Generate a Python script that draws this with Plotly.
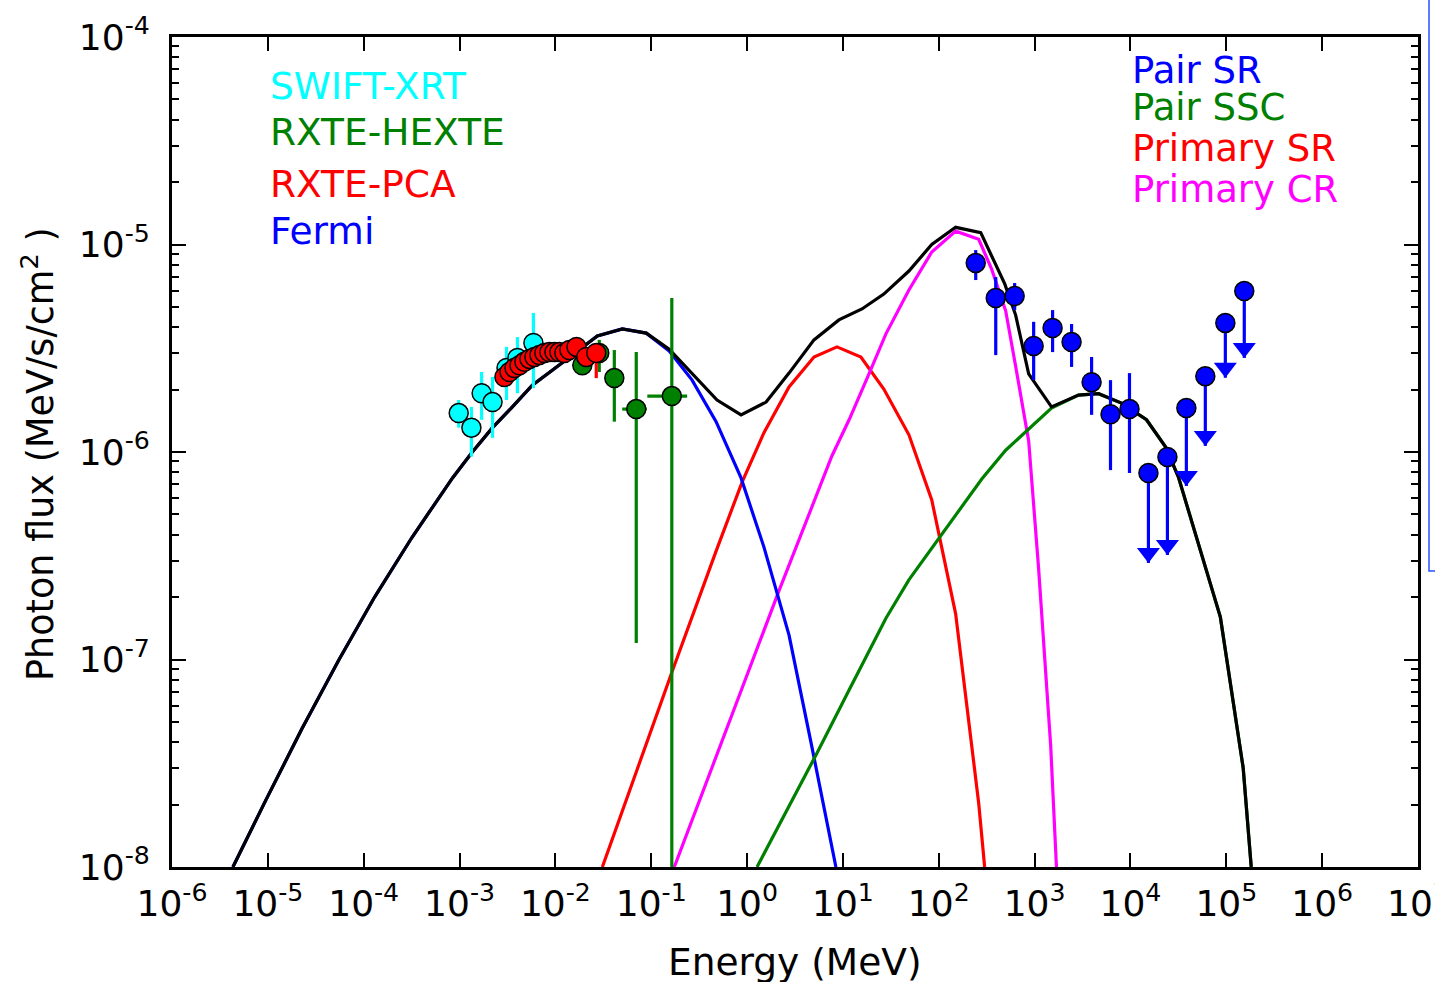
import plotly.graph_objects as go

# ---------------- model curves (E in MeV, flux in MeV/s/cm^2) ----------------
total_E = [4.32e-6, 9.53e-6, 2.26e-5, 5.50e-5, 1.30e-4, 3.16e-4, 5.24e-4, 8.45e-4,
           1.36e-3, 2.21e-3, 3.56e-3, 5.75e-3, 1.18e-2, 2.74e-2, 4.99e-2, 8.87e-2,
           0.154, 0.267, 0.486, 0.865, 1.58, 2.74, 4.99, 9.08, 15.8, 26.7, 48.8, 84.5,
           150, 274, 356, 488, 634, 867, 1500, 2870, 4650, 8050, 14700, 23200, 31600,
           86700, 150000, 182000]
total_F = [1.00e-8, 2.10e-8, 4.62e-8, 9.95e-8, 2.00e-7, 3.85e-7, 5.43e-7, 7.50e-7,
           1.00e-6, 1.31e-6, 1.65e-6, 2.10e-6, 2.69e-6, 3.62e-6, 3.92e-6, 3.74e-6,
           3.13e-6, 2.40e-6, 1.78e-6, 1.51e-6, 1.74e-6, 2.40e-6, 3.47e-6, 4.33e-6,
           4.89e-6, 5.77e-6, 7.45e-6, 1.00e-5, 1.21e-5, 1.14e-5, 8.81e-6, 6.46e-6,
           4.57e-6, 2.38e-6, 1.65e-6, 1.88e-6, 1.91e-6, 1.72e-6, 1.43e-6, 1.06e-6,
           7.59e-7, 1.60e-7, 3.00e-8, 1.00e-8]

pair_sr_E = [4.32e-6, 9.53e-6, 2.26e-5, 5.50e-5, 1.30e-4, 3.16e-4, 5.24e-4, 8.45e-4,
             1.36e-3, 2.21e-3, 3.56e-3, 5.75e-3, 1.18e-2, 2.74e-2, 4.99e-2, 8.87e-2,
             0.154, 0.267, 0.475, 0.865, 1.50, 2.74, 4.75, 8.45]
pair_sr_F = [1.00e-8, 2.10e-8, 4.62e-8, 9.95e-8, 2.00e-7, 3.85e-7, 5.43e-7, 7.50e-7,
             1.00e-6, 1.31e-6, 1.65e-6, 2.10e-6, 2.69e-6, 3.62e-6, 3.92e-6, 3.74e-6,
             3.07e-6, 2.22e-6, 1.40e-6, 7.50e-7, 3.48e-7, 1.31e-7, 3.78e-8, 1.00e-8]

pair_ssc_E = [1.27, 5.24, 11.6, 28.1, 48.8, 100, 281, 499, 867, 1500, 2870, 4650, 8050,
              14700, 23200, 31600, 86700, 150000, 182000]
pair_ssc_F = [1.00e-8, 3.47e-8, 7.13e-8, 1.58e-7, 2.42e-7, 3.85e-7, 7.41e-7, 1.02e-6,
              1.29e-6, 1.63e-6, 1.88e-6, 1.91e-6, 1.72e-6, 1.43e-6, 1.06e-6, 7.59e-7,
              1.60e-7, 3.00e-8, 1.00e-8]

primary_sr_E = [0.0309, 0.166, 0.475, 0.887, 1.50, 2.74, 4.99, 8.67, 15.4, 26.7, 48.8,
                84.5, 150, 261, 301]
primary_sr_F = [1.00e-8, 8.81e-8, 3.33e-7, 7.16e-7, 1.24e-6, 2.06e-6, 2.87e-6, 3.21e-6,
                2.87e-6, 2.01e-6, 1.21e-6, 5.87e-7, 1.66e-7, 2.03e-8, 1.00e-8]

primary_cr_E = [0.174, 2.15, 7.67, 11.6, 18.7, 28.1, 48.8, 84.5, 150, 261, 356, 499, 634,
                867, 1100, 1470, 1690]
primary_cr_F = [1.00e-8, 2.14e-7, 9.57e-7, 1.43e-6, 2.38e-6, 3.71e-6, 6.04e-6, 9.20e-6,
                1.16e-5, 1.06e-5, 7.62e-6, 4.79e-6, 2.59e-6, 1.13e-6, 2.76e-7, 3.87e-8, 1.00e-8]

# ---------------- observations ----------------
xrt_E = [9.8e-4, 1.33e-3, 1.70e-3, 2.21e-3, 3.09e-3, 4.02e-3, 5.9e-3]
xrt_F = [1.54e-6, 1.31e-6, 1.92e-6, 1.74e-6, 2.54e-6, 2.84e-6, 3.35e-6]
xrt_hi = [1.78e-6, 1.65e-6, 2.43e-6, 2.30e-6, 3.21e-6, 3.58e-6, 4.68e-6]
xrt_lo = [1.31e-6, 9.5e-7, 1.43e-6, 1.17e-6, 1.78e-6, 1.92e-6, 2.03e-6]

hexte_E = [0.0191, 0.0287, 0.0412, 0.0698, 0.164]
hexte_F = [2.62e-6, 3.00e-6, 2.27e-6, 1.61e-6, 1.86e-6]
hexte_hi = [2.75e-6, 3.47e-6, 3.10e-6, 3.03e-6, 5.52e-6]
hexte_lo = [2.50e-6, 2.43e-6, 1.40e-6, 1.20e-7, 1.0e-9]
hexte_Eerr = [0.002, 0.003, 0.004, 0.020, 0.073]

pca_E = [2.94e-3, 3.32e-3, 3.74e-3, 4.22e-3, 4.75e-3, 5.36e-3, 6.04e-3, 6.81e-3, 7.67e-3,
         8.65e-3, 9.77e-3, 1.10e-2, 1.24e-2, 1.40e-2, 1.66e-2, 2.10e-2, 2.67e-2]
pca_F = [2.30e-6, 2.43e-6, 2.54e-6, 2.62e-6, 2.72e-6, 2.81e-6, 2.87e-6, 2.93e-6, 3.00e-6,
         3.03e-6, 3.03e-6, 3.03e-6, 3.00e-6, 3.10e-6, 3.21e-6, 2.87e-6, 3.00e-6]
pca_hi = [2.40e-6, 2.53e-6, 2.64e-6, 2.72e-6, 2.82e-6, 2.91e-6, 2.97e-6, 3.03e-6, 3.10e-6,
          3.13e-6, 3.13e-6, 3.13e-6, 3.10e-6, 3.20e-6, 3.31e-6, 2.97e-6, 3.35e-6]
pca_lo = [2.20e-6, 2.33e-6, 2.44e-6, 2.52e-6, 2.62e-6, 2.71e-6, 2.77e-6, 2.83e-6, 2.90e-6,
          2.93e-6, 2.93e-6, 2.93e-6, 2.90e-6, 3.00e-6, 3.11e-6, 2.77e-6, 2.27e-6]

fermi_E = [243, 393, 619, 977, 1540, 2430, 3930, 6190, 9770]
fermi_F = [8.15e-6, 5.52e-6, 5.65e-6, 3.24e-6, 3.96e-6, 3.39e-6, 2.17e-6, 1.52e-6, 1.61e-6]
fermi_hi = [9.4e-6, 6.97e-6, 6.52e-6, 4.24e-6, 4.83e-6, 4.14e-6, 2.87e-6, 2.22e-6, 2.40e-6]
fermi_lo = [6.74e-6, 2.93e-6, 4.83e-6, 2.22e-6, 3.03e-6, 2.57e-6, 1.51e-6, 8.18e-7, 7.92e-7]

# Fermi upper limits: marker value and arrow end
fermi_ul_E = [15400, 24300, 38300, 60400, 97700, 154000]
fermi_ul_F = [7.92e-7, 9.46e-7, 1.63e-6, 2.32e-6, 4.19e-6, 5.97e-6]
fermi_ul_tip = [2.92e-7, 3.19e-7, 6.86e-7, 1.07e-6, 2.28e-6, 2.84e-6]

# ---------------- axis ticks ----------------
x_tickvals = [10.0 ** k for k in range(-6, 8)]
x_ticktext = [f"10<sup>{k}</sup>" for k in range(-6, 8)]
y_tickvals = [10.0 ** k for k in range(-8, -3)]
y_ticktext = [f"10<sup>{k}</sup>" for k in range(-8, -3)]
y_minorvals = [m * 10.0 ** k for k in range(-8, -4) for m in range(2, 10)]

FONT = "DejaVu Sans"
CYAN, GREEN, RED, BLUE, MAGENTA = "#00FFFF", "#008000", "#FF0000", "#0000FF", "#FF00FF"
LW = 3.2
MS = 19

fig = go.Figure()

# model components
for xs, ys, col in [(primary_sr_E, primary_sr_F, RED),
                    (primary_cr_E, primary_cr_F, MAGENTA),
                    (pair_sr_E, pair_sr_F, BLUE),
                    (pair_ssc_E, pair_ssc_F, GREEN),
                    (total_E, total_F, "black")]:
    fig.add_trace(go.Scatter(x=xs, y=ys, mode="lines",
                             line=dict(color=col, width=LW), hoverinfo="skip"))


def points(xs, ys, hi, lo, col, xerr=None):
    ey = dict(type="data", symmetric=False,
              array=[h - v for h, v in zip(hi, ys)],
              arrayminus=[v - l for v, l in zip(ys, lo)],
              color=col, thickness=3.2, width=0)
    ex = None
    if xerr is not None:
        ex = dict(type="data", array=xerr, color=col, thickness=3.2, width=0)
    return go.Scatter(x=xs, y=ys, mode="markers", error_y=ey, error_x=ex,
                      marker=dict(color=col, size=MS,
                                  line=dict(color="black", width=1.5)),
                      cliponaxis=True)


fig.add_trace(points(xrt_E, xrt_F, xrt_hi, xrt_lo, CYAN))
fig.add_trace(points(hexte_E, hexte_F, hexte_hi, hexte_lo, GREEN, hexte_Eerr))
fig.add_trace(points(pca_E, pca_F, pca_hi, pca_lo, RED))
fig.add_trace(points(fermi_E, fermi_F, fermi_hi, fermi_lo, BLUE))

# upper-limit arrows
ul_x, ul_y = [], []
for e, f, t in zip(fermi_ul_E, fermi_ul_F, fermi_ul_tip):
    ul_x += [e, e, None]
    ul_y += [f, t, None]
fig.add_trace(go.Scatter(x=ul_x, y=ul_y, mode="lines",
                         line=dict(color=BLUE, width=3.2), hoverinfo="skip"))
fig.add_trace(go.Scatter(x=fermi_ul_E, y=fermi_ul_tip, mode="markers",
                         marker=dict(symbol="triangle-up", angle=180, standoff=10,
                                     size=20, color=BLUE, line=dict(width=0)),
                         hoverinfo="skip"))
fig.add_trace(go.Scatter(x=fermi_ul_E, y=fermi_ul_F, mode="markers",
                         marker=dict(color=BLUE, size=MS,
                                     line=dict(color="black", width=1.5))))

axis_common = dict(type="log", showgrid=False, zeroline=False, showline=True,
                   linecolor="black", linewidth=3, mirror="ticks",
                   ticks="inside", ticklen=14, tickwidth=1.5, tickcolor="black",
                   tickmode="array",
                   tickfont=dict(family=FONT, size=36, color="black"))

fig.update_xaxes(**axis_common, range=[-6, 7],
                 tickvals=x_tickvals, ticktext=x_ticktext,
                 ticklabeloverflow="allow", ticklabelstandoff=3)
fig.update_yaxes(**axis_common, range=[-8, -4],
                 tickvals=y_tickvals, ticktext=y_ticktext, ticklabelstandoff=12,
                 minor=dict(tickmode="array", tickvals=y_minorvals, ticks="inside",
                            ticklen=7, tickwidth=1.5, tickcolor="black"))

W, H = 1435, 982
L, R, T, B = 172, 17, 37, 115
pw, ph = W - L - R, H - T - B


def px(xp):
    return (xp - L) / pw


def py(yp):
    return (H - B - yp) / ph


labels_left = [("SWIFT-XRT", CYAN, 86), ("RXTE-HEXTE", GREEN, 132),
               ("RXTE-PCA", RED, 184), ("Fermi", BLUE, 231)]
labels_right = [("Pair SR", BLUE, 70), ("Pair SSC", GREEN, 107),
                ("Primary SR", RED, 149), ("Primary CR", MAGENTA, 189)]

annotations = []
for text, col, yy in labels_left:
    annotations.append(dict(text=text, x=px(268), y=py(yy), xref="paper", yref="paper",
                            xanchor="left", yanchor="middle", showarrow=False,
                            font=dict(family=FONT, size=37.5, color=col)))
for text, col, yy in labels_right:
    annotations.append(dict(text=text, x=px(1130), y=py(yy), xref="paper", yref="paper",
                            xanchor="left", yanchor="middle", showarrow=False,
                            font=dict(family=FONT, size=37, color=col)))

annotations.append(dict(text="Energy (MeV)", x=0.5, y=py(962), xref="paper", yref="paper",
                        xanchor="center", yanchor="middle", showarrow=False,
                        font=dict(family=FONT, size=37.5, color="black")))
annotations.append(dict(text="Photon flux (MeV/s/cm<sup>2</sup> )", x=px(38), y=py(454),
                        xref="paper", yref="paper", textangle=-90,
                        xanchor="center", yanchor="middle", showarrow=False,
                        font=dict(family=FONT, size=36.6, color="black")))

fig.update_layout(
    width=W, height=H,
    margin=dict(l=L, r=R, t=T, b=B, autoexpand=False),
    paper_bgcolor="white", plot_bgcolor="white",
    showlegend=False,
    annotations=annotations,
    shapes=[dict(type="rect", xref="paper", yref="paper",
                 x0=px(1429), x1=px(1480), y0=py(571), y1=py(-20),
                 line=dict(color="rgb(40,80,255)", width=1.5))],
)

fig.write_html("out.html")
